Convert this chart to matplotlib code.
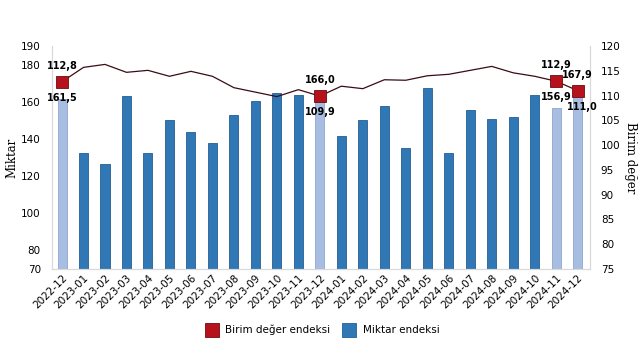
import numpy as np
import matplotlib.pyplot as plt
from matplotlib.lines import Line2D

# data
months = ['2022-12', '2023-01', '2023-02', '2023-03', '2023-04', '2023-05', '2023-06',
          '2023-07', '2023-08', '2023-09', '2023-10', '2023-11', '2023-12', '2024-01',
          '2024-02', '2024-03', '2024-04', '2024-05', '2024-06', '2024-07', '2024-08',
          '2024-09', '2024-10', '2024-11', '2024-12']
miktar = [161.5, 132.4, 126.5, 163.0, 132.4, 150.0, 143.7, 137.7, 152.8, 160.3, 164.6,
          163.5, 166.0, 141.5, 150.0, 158.0, 135.0, 167.3, 132.4, 155.5, 151.0, 151.7,
          163.5, 156.9, 167.9]
birim = [112.8, 115.7, 116.3, 114.7, 115.1, 113.9, 114.9, 113.9, 111.6, 110.7, 109.8,
         111.2, 109.9, 111.9, 111.4, 113.2, 113.1, 114.0, 114.3, 115.1, 115.9, 114.6,
         113.9, 112.9, 111.0]
highlight = [0, 12, 23, 24]

dark = '#2f77b5'
light = '#a8bde2'
red = '#b5121b'

fig = plt.figure(figsize=(6.41, 3.6), dpi=100)
ax = fig.add_axes([0.081, 0.253, 0.839, 0.619])
ax2 = ax.twinx()

x = np.arange(len(months))
colors = [light if i in highlight else dark for i in x]
edges = ['#8fa6cc' if i in highlight else '#245e92' for i in x]
ax.bar(x, miktar, width=0.42, color=colors, edgecolor=edges, linewidth=0.6, zorder=2)
ax.set_ylim(70, 190)
ax.set_xlim(-0.47, 24.56)
ax.set_yticks([70, 80, 100, 120, 140, 160, 180, 190])
ax.set_xticks(x)
ax.set_xticklabels(months, rotation=45, ha='right', rotation_mode='anchor', fontsize=7.5)

ax2.plot(x, birim, color='#3a0c14', lw=0.9, zorder=3)
hx = [x[i] for i in highlight]
hy = [birim[i] for i in highlight]
ax2.plot(hx, hy, 's', ms=9, color=red, mec='#6e0a10', mew=0.6, zorder=4)
ax2.set_ylim(75, 120)
ax2.set_yticks(np.arange(75, 121, 5))

ax2.set_zorder(ax.get_zorder() + 1)
ax.patch.set_visible(True)
ax2.patch.set_visible(False)

def fmt(v):
    return f'{v:.1f}'.replace('.', ',')

# labels: the value whose mark sits higher goes above the marker
for i in highlight:
    bar_r = 75 + (miktar[i] - 70) * 45 / 120
    if bar_r > birim[i]:
        top, bot = miktar[i], birim[i]
    else:
        top, bot = birim[i], miktar[i]
    dx = 0
    if i == 24:
        dx = 3
    ax2.annotate(fmt(top), (x[i], birim[i]), xytext=(0, 8), textcoords='offset points',
                 ha='center', va='bottom', fontsize=7, fontweight='bold', zorder=5)
    ax2.annotate(fmt(bot), (x[i], birim[i]), xytext=(dx, -8), textcoords='offset points',
                 ha='center', va='top', fontsize=7, fontweight='bold', zorder=5)

for a in (ax, ax2):
    a.spines['top'].set_visible(False)
    for s in ('left', 'right', 'bottom'):
        a.spines[s].set_color('#d9d9d9')
        a.spines[s].set_linewidth(0.8)
    a.tick_params(length=0, labelsize=7.5, pad=8)
ax.tick_params(axis='x', pad=3)

ax.set_ylabel('Miktar', family='DejaVu Serif', fontsize=8.5, labelpad=2)
ax2.set_ylabel('Birim değer', family='DejaVu Serif', fontsize=8.5, rotation=270,
               labelpad=12)

handles = [Line2D([], [], marker='s', ls='', ms=10, color=red, mec='#6e0a10', mew=0.6),
           Line2D([], [], marker='s', ls='', ms=10, color=dark, mec='#245e92', mew=0.6)]
fig.legend(handles, ['Birim değer endeksi', 'Miktar endeksi'], loc='center',
           bbox_to_anchor=(0.5, 0.083), ncol=2, frameon=False, fontsize=7.5,
           handletextpad=0.3, columnspacing=0.8)

fig.savefig('out.png', dpi=100)
